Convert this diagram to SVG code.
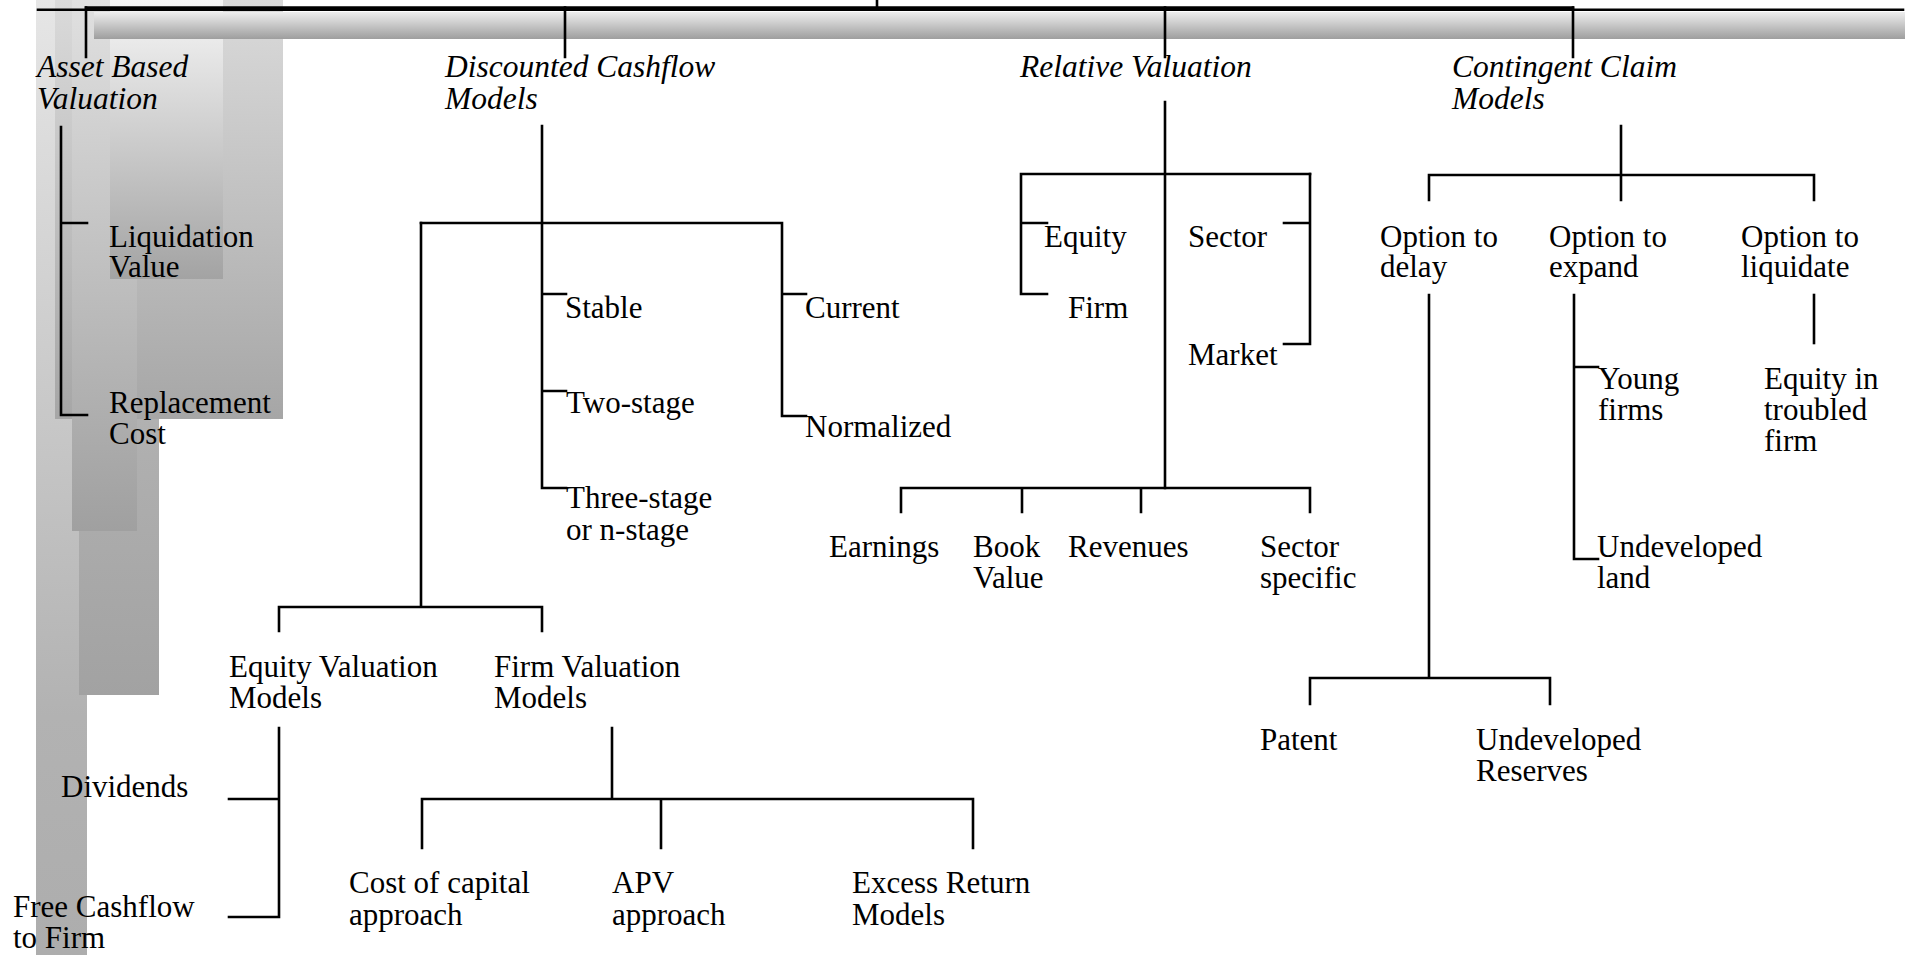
<svg xmlns="http://www.w3.org/2000/svg" width="1912" height="955" viewBox="0 0 1912 955">
<style>
text{font-family:"Liberation Serif","Times New Roman",serif;font-size:31px;fill:#000}
.cat{font-style:italic;font-size:31.5px}
.ln{stroke:#000;stroke-width:2.6;fill:none;stroke-linecap:square}
</style>
<defs>
<linearGradient id="gBar" x1="0" y1="0" x2="0" y2="1"><stop offset="0" stop-color="#eeeeee"/><stop offset="1" stop-color="#9e9e9e"/></linearGradient>
<linearGradient id="gR1" x1="0" y1="0" x2="0" y2="1"><stop offset="0" stop-color="#e6e6e6"/><stop offset="0.75" stop-color="#b2b2b2"/><stop offset="1" stop-color="#adadad"/></linearGradient>
<linearGradient id="gR3" x1="0" y1="0" x2="0" y2="1"><stop offset="0" stop-color="#c8c8c8"/><stop offset="1" stop-color="#a2a2a2"/></linearGradient>
<linearGradient id="gR4" x1="0" y1="0" x2="0" y2="1"><stop offset="0" stop-color="#dadada"/><stop offset="1" stop-color="#a6a6a6"/></linearGradient>
<linearGradient id="gR2" x1="0" y1="0" x2="0" y2="1"><stop offset="0" stop-color="#e0e0e0"/><stop offset="1" stop-color="#a0a0a0"/></linearGradient>
<linearGradient id="gR5" x1="0" y1="0" x2="0" y2="1"><stop offset="0" stop-color="#f6f6f6"/><stop offset="1" stop-color="#a3a3a3"/></linearGradient>
</defs>
<g id="background">
<rect x="36" y="0" width="51" height="955" fill="url(#gR1)"/>
<rect x="79" y="0" width="80" height="695" fill="url(#gR3)"/>
<rect x="55" y="0" width="228" height="419" fill="url(#gR4)"/>
<rect x="72" y="0" width="65" height="531" fill="url(#gR2)"/>
<rect x="110" y="0" width="113" height="279" fill="url(#gR5)"/>
<rect x="94" y="12" width="1811" height="27" fill="url(#gBar)"/>
</g>
<g id="connectors" class="ln">
<path d="M877 0V7.5M86 7.5H1573M38 9.7H1903"/>
<path d="M86 7.5V57M565 7.5V57M1165 7.5V57M1573 7.5V57"/>
<path d="M61 127V415M61 223H87M61 415H87"/>
<path d="M542 126V488M542 294H566M542 391H566M542 488H566"/>
<path d="M421 223H782V416M782 294H806M782 416H806"/>
<path d="M421 223V607M279 607H542M279 607V631M542 607V631"/>
<path d="M279 728V917M229 799H279M229 917H279"/>
<path d="M612 728V799M422 799H973M422 799V848M661 799V848M973 799V848"/>
<path d="M1165 102V488M1021 174H1310M1021 174V294M1021 223H1047M1021 294H1047"/>
<path d="M1310 174V344M1284 223H1310M1284 344H1310"/>
<path d="M901 488H1310M901 488V512M1022 488V512M1141 488V512M1310 488V512"/>
<path d="M1621 126V200M1429 175H1814M1429 175V200M1814 175V200"/>
<path d="M1429 295V678M1310 678H1550M1310 678V704M1550 678V704"/>
<path d="M1574 295V559M1574 367H1598M1574 559H1598"/>
<path d="M1814 295V343"/>
</g>
<g id="n-asset"><text class="cat" x="37" y="77">Asset Based<tspan x="37" y="109">Valuation</tspan></text></g>
<g id="n-dcf"><text class="cat" x="445" y="77">Discounted Cashflow<tspan x="445" y="109">Models</tspan></text></g>
<g id="n-rv"><text class="cat" x="1020" y="77">Relative Valuation</text></g>
<g id="n-cc"><text class="cat" x="1452" y="77">Contingent Claim<tspan x="1452" y="109">Models</tspan></text></g>
<g id="n-liq"><text x="109" y="247">Liquidation<tspan x="109" y="277">Value</tspan></text></g>
<g id="n-repl"><text x="109" y="413">Replacement<tspan x="109" y="444">Cost</tspan></text></g>
<g id="n-stable"><text x="565" y="318">Stable</text></g>
<g id="n-two"><text x="566" y="413">Two-stage</text></g>
<g id="n-three"><text x="566" y="508">Three-stage<tspan x="566" y="540">or n-stage</tspan></text></g>
<g id="n-current"><text x="805" y="318">Current</text></g>
<g id="n-normal"><text x="805" y="437">Normalized</text></g>
<g id="n-eqvm"><text x="229" y="677">Equity Valuation<tspan x="229" y="708">Models</tspan></text></g>
<g id="n-fvm"><text x="494" y="677">Firm Valuation<tspan x="494" y="708">Models</tspan></text></g>
<g id="n-div"><text x="61" y="797">Dividends</text></g>
<g id="n-fcf"><text x="13" y="917">Free Cashflow<tspan x="13" y="948">to Firm</tspan></text></g>
<g id="n-coc"><text x="349" y="893">Cost of capital<tspan x="349" y="925">approach</tspan></text></g>
<g id="n-apv"><text x="612" y="893">APV<tspan x="612" y="925">approach</tspan></text></g>
<g id="n-excess"><text x="852" y="893">Excess Return<tspan x="852" y="925">Models</tspan></text></g>
<g id="n-equity"><text x="1044" y="247">Equity</text></g>
<g id="n-firm"><text x="1068" y="318">Firm</text></g>
<g id="n-sector"><text x="1188" y="247">Sector</text></g>
<g id="n-market"><text x="1188" y="365">Market</text></g>
<g id="n-earn"><text x="829" y="557">Earnings</text></g>
<g id="n-book"><text x="973" y="557">Book<tspan x="973" y="588">Value</tspan></text></g>
<g id="n-rev"><text x="1068" y="557">Revenues</text></g>
<g id="n-secspec"><text x="1260" y="557">Sector<tspan x="1260" y="588">specific</tspan></text></g>
<g id="n-delay"><text x="1380" y="247">Option to<tspan x="1380" y="277">delay</tspan></text></g>
<g id="n-expand"><text x="1549" y="247">Option to<tspan x="1549" y="277">expand</tspan></text></g>
<g id="n-liquidate"><text x="1741" y="247">Option to<tspan x="1741" y="277">liquidate</tspan></text></g>
<g id="n-young"><text x="1598" y="389">Young<tspan x="1598" y="420">firms</tspan></text></g>
<g id="n-troubled"><text x="1764" y="389">Equity in<tspan x="1764" y="420">troubled</tspan><tspan x="1764" y="451">firm</tspan></text></g>
<g id="n-land"><text x="1597" y="557">Undeveloped<tspan x="1597" y="588">land</tspan></text></g>
<g id="n-patent"><text x="1260" y="750">Patent</text></g>
<g id="n-reserves"><text x="1476" y="750">Undeveloped<tspan x="1476" y="781">Reserves</tspan></text></g>
</svg>
